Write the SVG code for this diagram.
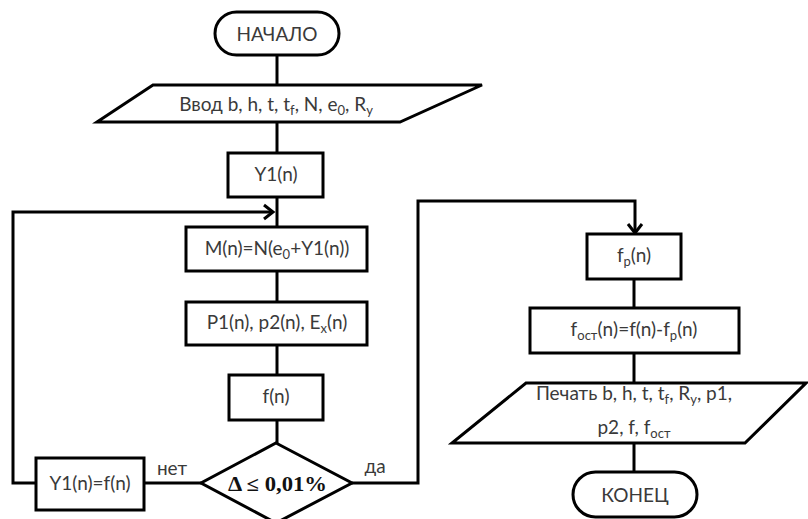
<svg xmlns="http://www.w3.org/2000/svg" width="808" height="519" viewBox="0 0 808 519">
<style>
.n{fill:#fff;stroke:#000;stroke-width:3}
.c{fill:none;stroke:#000;stroke-width:3}
.t{font-family:Lato,"Open Sans","Liberation Sans",sans-serif;font-size:19px;fill:#3a3a3a;text-anchor:middle}
.s{font-size:13px}
.d{font-family:"Liberation Serif","Times New Roman",serif;font-weight:bold;font-size:20px;fill:#111;text-anchor:middle}
</style>
<defs>
<marker id="a" markerUnits="userSpaceOnUse" markerWidth="18" markerHeight="18" refX="12" refY="9" orient="auto">
<path d="M3,2 L12,9 L3,16" fill="none" stroke="#000" stroke-width="3"/>
</marker>
</defs>
<g id="connectors">
<path class="c" d="M277,55 V85"/>
<path class="c" d="M277,122 V153"/>
<path class="c" d="M277,197 V227"/>
<path class="c" d="M277,271 V302"/>
<path class="c" d="M277,345 V375"/>
<path class="c" d="M277,420 V443"/>
<path class="c" d="M201,483 H144"/>
<path class="c" d="M36,483 H13 V212 H273" marker-end="url(#a)"/>
<path class="c" d="M352,483 H418 V201 H635 V233" marker-end="url(#a)"/>
<path class="c" d="M634,279 V308"/>
<path class="c" d="M634,353 V383"/>
<path class="c" d="M634,443 V472"/>
</g>
<g id="start">
<rect class="n" x="215" y="12" width="124" height="43" rx="21.5"/>
<text class="t" x="277" y="41">НАЧАЛО</text>
</g>
<g id="input">
<polygon class="n" points="153,85 482,85 400,122 97,122"/>
<text class="t" x="276" y="111">Ввод b, h, t, t<tspan class="s" dy="4">f</tspan><tspan dy="-4">, N, e</tspan><tspan class="s" dy="4">0</tspan><tspan dy="-4">, R</tspan><tspan class="s" dy="4">y</tspan></text>
</g>
<g id="y1">
<rect class="n" x="228" y="153" width="95" height="44"/>
<text class="t" x="276" y="181">Y1(n)</text>
</g>
<g id="mn">
<rect class="n" x="186" y="227" width="181" height="44"/>
<text class="t" x="277" y="255">M(n)=N(e<tspan class="s" dy="4">0</tspan><tspan dy="-4">+Y1(n))</tspan></text>
</g>
<g id="p1">
<rect class="n" x="186" y="302" width="181" height="43"/>
<text class="t" x="277" y="329">P1(n), p2(n), E<tspan class="s" dy="4">x</tspan><tspan dy="-4">(n)</tspan></text>
</g>
<g id="fn">
<rect class="n" x="229" y="375" width="94" height="45"/>
<text class="t" x="276" y="403">f(n)</text>
</g>
<g id="decision">
<polygon class="n" points="276,443 352,483 276,523 201,483"/>
<text class="d" x="277.5" y="491" textLength="99" lengthAdjust="spacingAndGlyphs">Δ ≤ 0,01%</text>
</g>
<g id="y1f">
<rect class="n" x="36" y="458" width="108" height="52"/>
<text class="t" x="90" y="490">Y1(n)=f(n)</text>
</g>
<text class="t" x="172" y="475">нет</text>
<text class="t" x="375" y="473">да</text>
<g id="fp">
<rect class="n" x="587" y="234" width="94" height="45"/>
<text class="t" x="634" y="262">f<tspan class="s" dy="4">p</tspan><tspan dy="-4">(n)</tspan></text>
</g>
<g id="fost">
<rect class="n" x="530" y="308" width="209" height="45"/>
<text class="t" x="634" y="336">f<tspan class="s" dy="4">ост</tspan><tspan dy="-4">(n)=f(n)-f</tspan><tspan class="s" dy="4">p</tspan><tspan dy="-4">(n)</tspan></text>
</g>
<g id="print">
<polygon class="n" points="526,383 806,383 745,443 452,443"/>
<text class="t" x="634" y="400">Печать b, h, t, t<tspan class="s" dy="4">f</tspan><tspan dy="-4">, R</tspan><tspan class="s" dy="4">y</tspan><tspan dy="-4">, p1,</tspan></text>
<text class="t" x="634" y="434">p2, f, f<tspan class="s" dy="4">ост</tspan></text>
</g>
<g id="end">
<rect class="n" x="573" y="472" width="124" height="45" rx="22.5"/>
<text class="t" x="635" y="502">КОНЕЦ</text>
</g>
</svg>
